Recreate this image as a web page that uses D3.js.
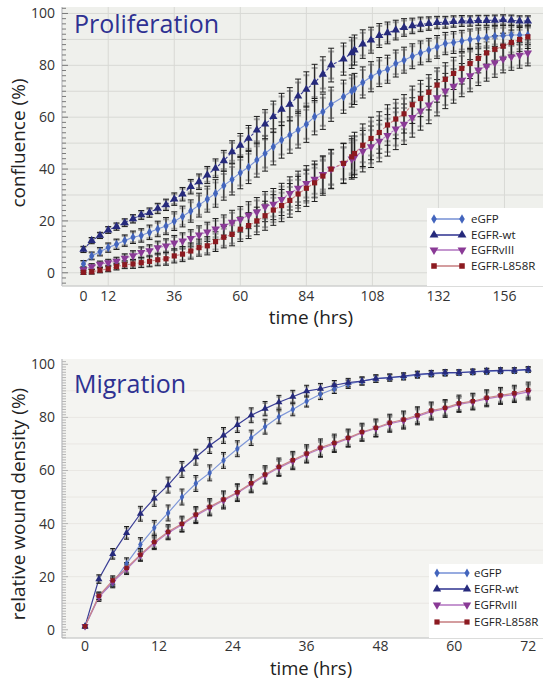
<!DOCTYPE html>
<html>
<head>
<meta charset="utf-8">
<script src="https://cdn.jsdelivr.net/npm/d3@7"></script>
<style>
body { margin: 0; background: #ffffff; }
text { font-family: "Open Sans", sans-serif; }
</style>
</head>
<body>
<script>
// ---- data: proliferation (confluence %, hrs) ----
var timesP = [3,6,9,12,15,18,21,24,27,30,33,36,39,42,45,48,51,54,57,60,63,66,69,72,75,78,81,84,87,90,93,
  97.5,100.5,101.5,
  104.5,107.5,110.5,113.5,116.5,119.5,122.5,125.5,128.5,131.5,134.5,137.5,140.5,143.5,146.5,149.5,152.5,155.5,158.5,161.5,164.5];

var gfpP = [3.4,6.5,8.1,9.7,11.0,12.4,13.7,14.4,15.6,16.9, 18.0,19.9,21.7,23.8,26.1,28.4,30.6,33.6,36.0,38.6,
  40.8,43.5,46.0,48.6,51.2,53.1,55.1,57.3,60.2,62.1, 65.0,67.9,70.1,70.9,73.4,75.6,77.4,78.5,80.7,82.0,
  83.5,84.8,85.9,87.1,88.4,88.8,89.4,90.0,90.4,90.7, 91.2,91.5,91.7,91.7,91.7];
var wtP = [9.0,12.4,14.4,16.5,17.8,19.3,20.8,22.3,23.2,24.8, 26.2,28.4,30.3,33.2,35.1,37.7,40.3,43.2,46.6,49.1,
  51.8,55.0,57.3,60.2,63.0,65.0,68.1,70.7,73.4,76.5, 80.1,82.4,84.8,85.9,88.2,89.7,91.5,92.5,93.6,94.6,
  95.2,95.8,96.1,96.5,96.6,96.9,97.1,97.1,97.3,97.3, 97.4,97.5,97.4,97.1,97.1];
var viiiP = [1.2,2.4,3.3,3.9,4.5,5.6,6.6,7.9,8.5,9.7, 10.4,11.5,12.3,13.3,14.6,15.8,16.9,18.0,19.5,20.6,
  22.2,23.5,25.5,26.5,28.3,30.6,32.6,34.5,36.1,37.9, 40.0,42.2,43.9,44.7,46.9,48.6,50.8,53.0,55.5,57.3,
  59.9,62.4,64.7,67.5,70.1,72.0,74.3,76.0,78.2,79.7, 81.0,82.5,83.3,83.9,84.8];
var l858P = [0.2,0.4,1.0,1.5,2.4,3.1,3.4,3.9,4.4,5.0, 5.4,6.5,7.2,8.4,9.7,10.4,12.0,13.7,14.8,16.8,
  18.2,20.0,22.0,24.2,25.9,27.9,30.4,32.6,34.7,37.3, 40.0,42.2,44.7,46.0,49.2,51.8,54.1,57.0,59.3,61.3,
  64.8,67.2,69.6,72.4,74.6,76.9,78.8,80.7,82.7,84.8, 86.2,87.4,88.8,90.0,91.0];

var gfpErrP = [1.3,1.5,1.6,1.8,2.0,2.2,2.4,2.6,2.8,3.0, 3.3,3.6,4.0,4.3,4.6,5.0,5.3,5.6,6.0,6.2,
  6.4,6.6,6.8,7.0,7.0,7.0,7.0,7.0,7.0,6.8, 6.6,6.4,6.2,6.0,6.0,5.8,5.6,5.4,5.2,5.0,
  4.8,4.6,4.5,4.4,4.3,4.2,4.1,4.0,4.0,4.0, 3.9,3.8,3.8,3.7,3.7];
var wtErrP = [1.2,1.2,1.2,1.3,1.4,1.5,1.6,1.7,1.8,2.0, 2.2,2.4,2.6,2.8,3.0,3.3,3.6,4.0,4.3,4.6,
  5.0,5.3,5.6,6.0,6.2,6.4,6.6,6.8,7.0,6.8, 6.5,6.2,6.0,5.8,5.5,5.0,4.6,4.2,3.8,3.4,
  3.0,2.8,2.6,2.4,2.3,2.2,2.1,2.0,2.0,2.0, 2.0,2.0,2.0,2.0,2.0];
var viiiErrP = [1.0,1.1,1.2,1.3,1.5,1.7,1.9,2.1,2.3,2.5, 2.7,2.9,3.1,3.3,3.5,3.7,4.0,4.3,4.6,4.9,
  5.2,5.5,5.8,6.0,6.2,6.4,6.6,6.8,7.0,7.2, 7.4,7.6,7.8,8.0,8.0,8.0,8.0,8.0,8.0,7.8,
  7.6,7.4,7.2,7.0,6.8,6.6,6.4,6.2,6.0,5.8, 5.6,5.4,5.2,5.0,5.0];
var l858ErrP = [0.8,0.9,1.0,1.1,1.3,1.5,1.7,1.9,2.1,2.3, 2.5,2.7,2.9,3.1,3.3,3.5,3.8,4.1,4.4,4.7,
  5.0,5.3,5.6,5.9,6.2,6.5,6.8,7.0,7.2,7.4, 7.6,7.8,8.0,8.2,8.2,8.2,8.0,7.8,7.6,7.4,
  7.2,7.0,6.8,6.6,6.4,6.2,6.0,5.8,5.6,5.4, 5.2,5.0,4.8,4.6,4.5];

var xTicksP = [12,36,60,84,108,132,156];

// ---- data: migration (relative wound density %, hrs) ----
var timesM = [0,2.25,4.5,6.75,9,11.25,13.5,15.75,18,20.25,22.5,24.75,27,29.25,31.5,33.75,36,
  38.25,40.5,42.75,45,47.25,49.5,51.75,54,56.25,58.5,60.75,63,65.25,67.5,69.75,72];

var gfpM = [1.3,12.6,17.6,24.9,32.1,38.4,44.0,50.0,55.1,59.1, 63.8,68.2,72.3,76.5,80.2,83.0,86.1,88.7,90.8,92.5,
  93.7,94.6,95.0,95.3,96.0,96.4,96.7,96.9,97.1,97.3, 97.5,97.6,97.9];
var wtM = [1.3,19.1,28.6,36.5,43.7,49.5,54.5,60.4,65.0,69.4, 73.2,77.2,80.8,83.3,85.7,87.8,89.9,90.8,92.1,93.1,
  93.7,94.6,95.0,95.6,96.2,96.6,96.9,96.9,97.2,97.5, 97.7,97.7,98.1];
var viiiM = [1.3,12.2,18.0,22.8,28.0,32.6,36.5,39.6,43.0,45.9, 48.7,51.5,54.8,58.1,61.0,63.5,66.0,68.2,70.0,72.0,
  74.2,75.8,77.6,78.8,80.4,82.2,83.2,84.9,85.8,87.0, 87.9,88.6,89.6];
var l858M = [1.3,12.8,18.6,23.3,28.3,33.1,36.9,39.9,43.4,46.3, 49.1,51.8,55.2,58.5,61.4,63.9,66.4,68.6,70.4,72.3,
  74.5,76.1,78.0,79.2,80.8,82.6,83.6,85.3,86.1,87.4, 88.3,89.1,90.3];

var gfpErrM = [0.6,1.5,1.8,2.2,2.6,2.8,3.0,3.0,3.0,3.0, 3.0,3.0,2.9,2.8,2.6,2.4,2.2,2.0,1.8,1.6,
  1.5,1.4,1.3,1.2,1.2,1.1,1.1,1.0,1.0,1.0, 1.0,1.0,1.0];
var wtErrM = [0.6,1.6,2.0,2.4,2.8,3.0,3.0,3.0,3.0,3.0, 3.0,2.9,2.8,2.7,2.6,2.4,2.2,2.0,1.8,1.6,
  1.5,1.4,1.3,1.2,1.2,1.1,1.1,1.0,1.0,1.0, 1.0,1.0,1.0];
var viiiErrM = [0.6,1.5,1.8,2.0,2.2,2.4,2.6,2.8,3.0,3.0, 3.2,3.2,3.2,3.2,3.2,3.2,3.2,3.2,3.2,3.2,
  3.2,3.2,3.2,3.2,3.2,3.2,3.2,3.0,3.0,3.0, 3.0,3.0,3.0];
var l858ErrM = [0.6,1.4,1.7,2.0,2.3,2.5,2.7,2.9,3.0,3.1, 3.2,3.2,3.3,3.3,3.3,3.3,3.3,3.3,3.3,3.3,
  3.3,3.3,3.2,3.2,3.2,3.2,3.1,3.1,3.0,3.0, 3.0,3.0,3.0];

var xTicksM = [0,12,24,36,48,60,72];
var yTicks = [0,20,40,60,80,100];

var seriesNames = ["eGFP", "EGFR-wt", "EGFRvIII", "EGFR-L858R"];
var markColors = ["#4365bd", "#262a7c", "#8a3a96", "#8c1a20"];
var lineColors = ["#7d96d8", "#3a3e96", "#b67cc4", "#c98587"];
var dashes = [null, "3,2", "3,2", "3,2"];

var W = 546, H = 680;
var svg = d3.select("body").append("svg").attr("width", W).attr("height", H);

function symbolFor(i, size) {
	if (i == 0) return d3.symbol().type(d3.symbolDiamond).size(size * 0.8)();
	if (i == 1 || i == 2) return d3.symbol().type(d3.symbolTriangle).size(size)();
	return d3.symbol().type(d3.symbolSquare).size(size * 0.9)();
}

function drawPanel(p) {
	var g = svg.append("g");
	var x = d3.scaleLinear().domain(p.xDomain).range([p.left, p.right]);
	var y = d3.scaleLinear().domain(p.yDomain).range([p.bottom, p.top]);

	g.append("rect")
		.attr("x", p.left).attr("y", p.top)
		.attr("width", p.right - p.left).attr("height", p.bottom - p.top)
		.attr("fill", p.bg);

	// grid
	g.selectAll(".hg").data(p.hGrid).enter().append("line")
		.attr("x1", p.left).attr("x2", p.right)
		.attr("y1", function(d) { return y(d); }).attr("y2", function(d) { return y(d); })
		.attr("stroke", p.gridColor).attr("stroke-width", 1);
	g.selectAll(".vg").data(p.vGrid).enter().append("line")
		.attr("y1", p.top).attr("y2", p.bottom)
		.attr("x1", function(d) { return x(d); }).attr("x2", function(d) { return x(d); })
		.attr("stroke", p.gridColor).attr("stroke-width", 1);

	// axes lines
	g.append("line").attr("x1", p.left).attr("x2", p.left).attr("y1", p.top).attr("y2", p.bottom)
		.attr("stroke", "#c4c6c8").attr("stroke-width", 1.5);
	g.append("line").attr("x1", p.left).attr("x2", p.right).attr("y1", p.bottom).attr("y2", p.bottom)
		.attr("stroke", "#cfd0cf").attr("stroke-width", 1.5);

	// minor / major ticks on y
	var minor = d3.range(Math.ceil(p.yDomain[0] / p.minorStep) * p.minorStep, p.yDomain[1], p.minorStep);
	g.selectAll(".mt").data(minor).enter().append("line")
		.attr("x1", p.left).attr("x2", function(d) { return p.left + (d % 20 == 0 ? 6 : 4); })
		.attr("y1", function(d) { return y(d); }).attr("y2", function(d) { return y(d); })
		.attr("stroke", p.tickColor).attr("stroke-width", 1);

	// y tick labels
	g.selectAll(".yl").data(yTicks).enter().append("text")
		.attr("x", p.left - 7).attr("y", function(d) { return y(d) + 5; })
		.attr("text-anchor", "end").attr("font-size", 14).attr("fill", "#333")
		.text(function(d) { return d; });

	// x tick labels
	g.selectAll(".xl").data(p.xLabels).enter().append("text")
		.attr("x", function(d) { return x(d.t); }).attr("y", p.bottom + p.xLabelDy)
		.attr("text-anchor", "middle").attr("font-size", 14).attr("fill", "#333")
		.text(function(d) { return d.label; });

	// axis titles
	g.append("text").attr("x", p.xTitleX).attr("y", p.bottom + p.xTitleDy)
		.attr("text-anchor", "middle").attr("font-size", p.xTitleSize).attr("fill", "#222")
		.text("time (hrs)");
	g.append("text")
		.attr("transform", "translate(" + 25 + "," + p.yTitleY + ") rotate(-90)")
		.attr("text-anchor", "middle").attr("font-size", 19).attr("fill", "#222")
		.text(p.yTitle);

	// panel title
	g.append("text").attr("x", 74).attr("y", p.titleY)
		.attr("font-size", p.titleSize).attr("fill", "#2e3192")
		.text(p.title);

	// series
	p.series.forEach(function(s, i) {
		var pts = p.times.map(function(t, k) { return {t: t, v: s.values[k], e: s.err[k]}; });
		var line = d3.line().x(function(d) { return x(d.t); }).y(function(d) { return y(d.v); });
		g.append("path").datum(pts)
			.attr("d", line).attr("fill", "none")
			.attr("stroke", lineColors[i]).attr("stroke-width", p.lineWidth)
			.attr("stroke-dasharray", p.dashed ? dashes[i] : null);

		var eb = g.append("g");
		pts.forEach(function(d) {
			var cx = x(d.t), c = p.cap;
			// grey bar
			var g1 = y(d.v + d.e * 0.8), g2 = y(d.v - d.e * 0.8);
			eb.append("path")
				.attr("d", "M" + cx + "," + g1 + "V" + g2 + "M" + (cx - c) + "," + g1 + "H" + (cx + c) + "M" + (cx - c) + "," + g2 + "H" + (cx + c))
				.attr("stroke", "#8a8a8a").attr("stroke-opacity", 0.75).attr("stroke-width", 2).attr("fill", "none");
			var b1 = y(d.v + d.e), b2 = y(d.v - d.e);
			eb.append("path")
				.attr("d", "M" + cx + "," + b1 + "V" + b2 + "M" + (cx - c) + "," + b1 + "H" + (cx + c) + "M" + (cx - c) + "," + b2 + "H" + (cx + c))
				.attr("stroke", "#1c1c1c").attr("stroke-width", 1).attr("fill", "none");
		});
		s.pts = pts;
	});
	p.series.forEach(function(s, i) {
		g.selectAll(".m" + i).data(s.pts).enter().append("path")
			.attr("d", symbolFor(i, p.markSize))
			.attr("transform", function(d) {
				return "translate(" + x(d.t) + "," + y(d.v) + ")" + (i == 2 ? " rotate(180)" : "");
			})
			.attr("fill", markColors[i]);
	});

	// legend
	var lg = g.append("g");
	lg.append("rect").attr("x", p.legend.x).attr("y", p.legend.y)
		.attr("width", p.right - p.legend.x).attr("height", p.bottom - p.legend.y)
		.attr("fill", "#ffffff");
	seriesNames.forEach(function(name, i) {
		var ry = p.legend.rows[i];
		lg.append("line").attr("x1", p.legend.m1).attr("x2", p.legend.m2)
			.attr("y1", ry).attr("y2", ry)
			.attr("stroke", lineColors[i]).attr("stroke-width", 1.6);
		[p.legend.m1, p.legend.m2].forEach(function(mx) {
			lg.append("path").attr("d", symbolFor(i, p.legendMark))
				.attr("transform", "translate(" + mx + "," + ry + ")" + (i == 2 ? " rotate(180)" : ""))
				.attr("fill", markColors[i]);
		});
		lg.append("text").attr("x", p.legend.tx).attr("y", ry + 4)
			.attr("font-size", 11.5).attr("fill", "#222").text(name);
	});
}

drawPanel({
	left: 62, right: 543, top: 7, bottom: 286,
	xDomain: [-4.8, 170], yDomain: [-5.1, 102.5],
	bg: "#eff0ec", gridColor: "#d8d9d5", tickColor: "#7a7a7a", minorStep: 2,
	hGrid: [0,10,20,30,40,50,60,70,80,90,100], vGrid: xTicksP,
	xLabels: [{t: timesP[0], label: "0"}].concat(xTicksP.map(function(t) { return {t: t, label: t}; })),
	xLabelDy: 15, xTitleX: 311, xTitleDy: 38, xTitleSize: 19,
	yTitle: "confluence (%)", yTitleY: 143,
	title: "Proliferation", titleY: 33, titleSize: 25,
	times: timesP, lineWidth: 1.1, dashed: true, cap: 3, markSize: 30, legendMark: 34,
	series: [
		{values: gfpP, err: gfpErrP},
		{values: wtP, err: wtErrP},
		{values: viiiP, err: viiiErrP},
		{values: l858P, err: l858ErrP}
	],
	legend: {x: 427, y: 208, rows: [219, 235, 250, 266], m1: 434, m2: 462, tx: 471}
});

drawPanel({
	left: 62, right: 543, top: 359, bottom: 638,
	xDomain: [-3.74, 74.4], yDomain: [-3.1, 102],
	bg: "#f4f4f1", gridColor: "#e9e7e3", tickColor: "#b5b5b5", minorStep: 1,
	hGrid: [10,20,30,40,50,60,70,80,90], vGrid: [],
	xLabels: xTicksM.map(function(t) { return {t: t, label: t}; }),
	xLabelDy: 13, xTitleX: 311, xTitleDy: 37, xTitleSize: 18.5,
	yTitle: "relative wound density (%)", yTitleY: 504,
	title: "Migration", titleY: 393, titleSize: 25,
	times: timesM, lineWidth: 1.2, dashed: false, cap: 2.5, markSize: 22, legendMark: 30,
	series: [
		{values: gfpM, err: gfpErrM},
		{values: wtM, err: wtErrM},
		{values: viiiM, err: viiiErrM},
		{values: l858M, err: l858ErrM}
	],
	legend: {x: 429, y: 564, rows: [573, 589, 605, 622], m1: 437, m2: 467, tx: 474}
});
</script>
</body>
</html>
